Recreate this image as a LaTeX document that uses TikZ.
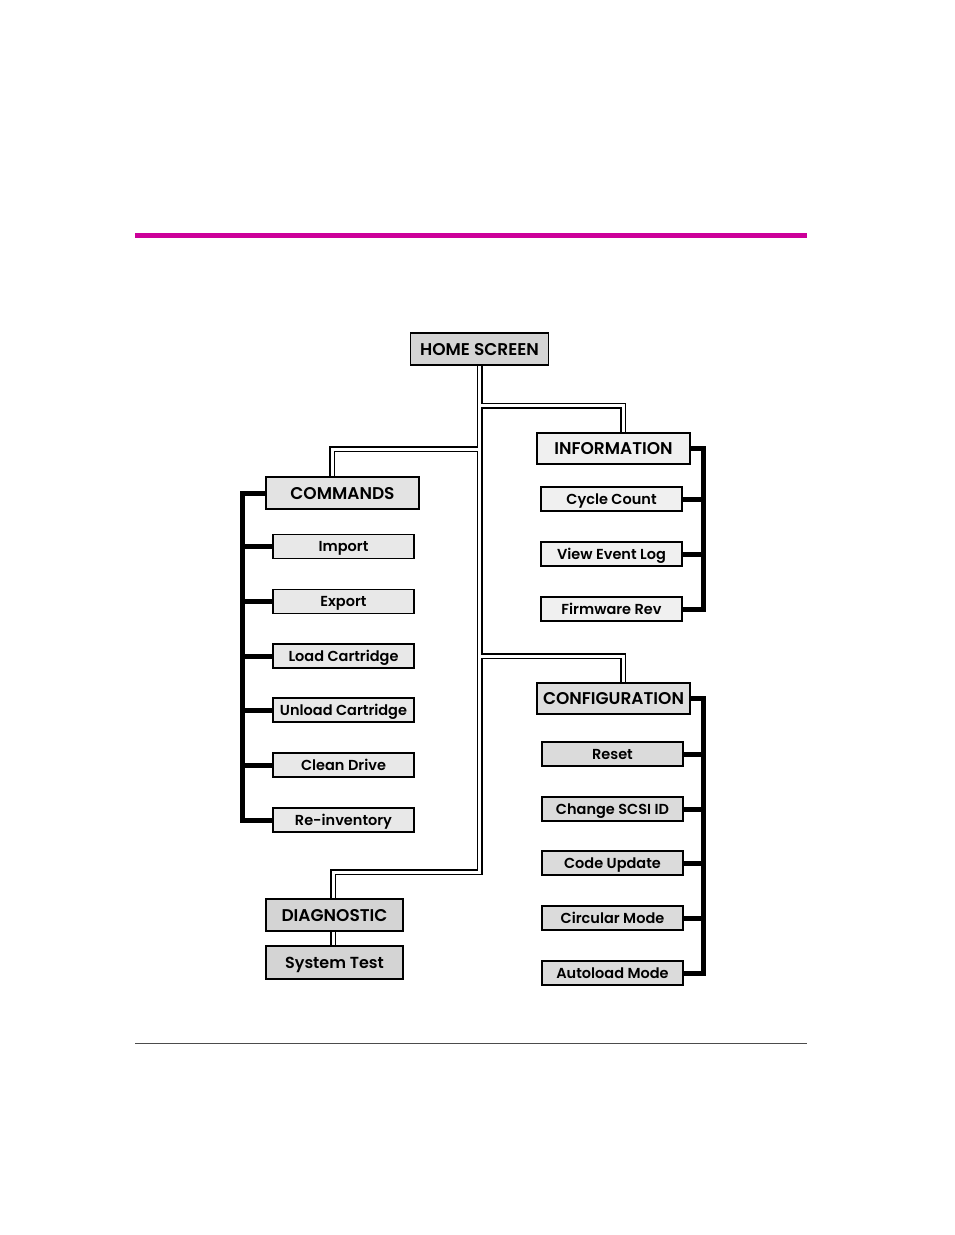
\documentclass[tikz,border=0pt]{standalone}
\usepackage{fontspec}
\setmainfont{Poppins}[BoldFont={Poppins SemiBold}]
\usetikzlibrary{backgrounds}
\definecolor{hpmagenta}{HTML}{CC0099}
\tikzset{
  headbox/.style={draw=black, line width=1.6pt, fill=black!17, minimum height=32pt,
    inner sep=0pt, text height=12pt, text depth=0pt, font=\fontsize{17}{17}\selectfont\bfseries},
  itembox/.style={draw=black, line width=1.4pt, fill=black!9, minimum width=141pt,
    minimum height=24pt, inner sep=0pt, text height=10pt, text depth=0pt,
    font=\fontsize{14.5}{14.5}\selectfont\bfseries},
  pipe/.style={line width=6pt, draw=black},
  pipecore/.style={line width=3pt, draw=white},
  bar/.style={line width=5pt, draw=black}
}
\newcommand{\menupipes}[1]{%
\draw[#1] (home) -- ++(0,56.5) -| ([xshift=87pt]info.west);
\draw[#1] (home) -- ++(0,100) -| ([xshift=67pt]cmds.west);
\draw[#1] (home) -- ++(0,523) -| ([xshift=68pt]diag.west);
\draw[#1] (home) ++(0,307) -| ([xshift=87pt]config.west);
\draw[#1] ([xshift=68pt]diag.west) -- ([xshift=68pt]systest.west);
}
\begin{document}
\begin{tikzpicture}[x=1pt, y=-1pt]
\useasboundingbox (0,0) rectangle (954,1235);
\fill[hpmagenta] (135,233) rectangle (807,237.5);
\draw[black!70, line width=0.9pt] (135,1043) -- (807,1043);

% top of the menu tree
\node[headbox, minimum width=138pt] (home) at (479.5,349) {HOME SCREEN};

% commands menu
\node[headbox, fill=black!11, minimum width=153pt] (cmds) at (342.5,493) {COMMANDS};
\node[itembox] (import) at (343.5,546.5) {Import};
\node[itembox] (export) at (343.5,601.5) {Export};
\node[itembox] (load) at (343.5,656) {Load Cartridge};
\node[itembox] (unload) at (343.5,710) {Unload Cartridge};
\node[itembox] (clean) at (343.5,765) {Clean Drive};
\node[itembox] (reinv) at (343.5,820) {Re-inventory};

% information menu
\node[headbox, fill=black!6, minimum height=31pt, minimum width=153pt] (info) at (613.5,448.5) {INFORMATION};
\node[itembox, fill=black!6] (cycle) at (611.5,499) {Cycle Count};
\node[itembox, fill=black!6] (evlog) at (611.5,554) {View Event Log};
\node[itembox, fill=black!6] (fwrev) at (611.5,609) {Firmware Rev};

% configuration menu
\node[headbox, fill=black!13, minimum height=31pt, minimum width=153pt] (config) at (613.5,698.5) {CONFIGURATION};
\node[itembox, fill=black!14] (reset) at (612.5,754) {Reset};
\node[itembox, fill=black!14] (scsi) at (612.5,809) {Change SCSI ID};
\node[itembox, fill=black!14] (codeup) at (612.5,863) {Code Update};
\node[itembox, fill=black!14] (circ) at (612.5,918) {Circular Mode};
\node[itembox, fill=black!14] (autold) at (612.5,973) {Autoload Mode};

% diagnostic menu
\node[headbox, minimum width=137pt] (diag) at (334.5,915) {DIAGNOSTIC};
\node[headbox, minimum width=137pt, minimum height=33pt, text height=11pt,
  font=\fontsize{16}{16}\selectfont\bfseries] (systest) at (334.5,962.5) {System Test};

\coordinate (lbar) at ([xshift=-23pt]cmds.west);
\coordinate (ibar) at ([xshift=13pt]info.east);
\coordinate (cbar) at ([xshift=13pt]config.east);

\begin{pgfonlayer}{background}
\menupipes{pipe}
\menupipes{pipecore}
\draw[bar] (cmds) -- (lbar) |- (reinv);
\foreach \n in {import,export,load,unload,clean}
  \draw[bar] (\n) -- (\n -| lbar);
\draw[bar] (info) -- (ibar) |- (fwrev);
\foreach \n in {cycle,evlog}
  \draw[bar] (\n) -- (\n -| ibar);
\draw[bar] (config) -- (cbar) |- (autold);
\foreach \n in {reset,scsi,codeup,circ}
  \draw[bar] (\n) -- (\n -| cbar);
\end{pgfonlayer}
\end{tikzpicture}
\end{document}
